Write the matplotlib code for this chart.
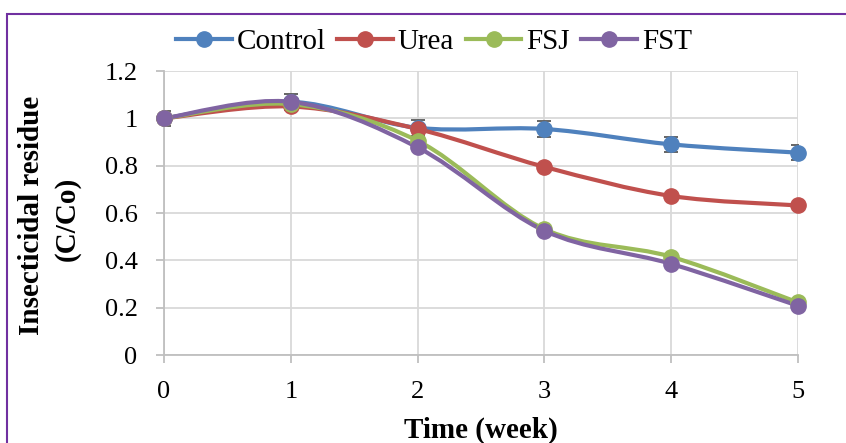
import matplotlib
matplotlib.use("Agg")
import matplotlib.pyplot as plt
from matplotlib.path import Path
from matplotlib.patches import PathPatch, Rectangle
from matplotlib.lines import Line2D
import numpy as np

weeks = [0, 1, 2, 3, 4, 5]
control = [1.00, 1.07, 0.96, 0.955, 0.89, 0.855]
urea = [1.00, 1.05, 0.955, 0.795, 0.672, 0.632]
fsj = [1.00, 1.06, 0.905, 0.532, 0.415, 0.222]
fst = [1.00, 1.07, 0.877, 0.525, 0.385, 0.208]
control_err = [0.033, 0.033, 0.033, 0.033, 0.033, 0.033]
other_err = [0.01, 0.01, 0.01, 0.01, 0.01, 0.01]

series = [
    ("Control", control, control_err, "#4F81BD"),
    ("Urea", urea, other_err, "#C0504D"),
    ("FSJ", fsj, other_err, "#9BBB59"),
    ("FST", fst, other_err, "#8064A2"),
]

plt.rcParams['font.family'] = ['Liberation Serif', 'DejaVu Serif']

fig = plt.figure(figsize=(8.46, 4.43), dpi=100)
W, H = 846, 443
ax = fig.add_axes([164 / W, 1 - 355 / H, (798 - 164) / W, (355 - 71) / H])

def smooth_path(xs, ys):
    pts = np.column_stack([xs, ys]).astype(float)
    n = len(pts)
    verts = [pts[0]]
    codes = [Path.MOVETO]
    for i in range(n - 1):
        p0 = pts[i - 1] if i > 0 else pts[i]
        p1 = pts[i]
        p2 = pts[i + 1]
        p3 = pts[i + 2] if i + 2 < n else pts[i + 1]
        c1 = p1 + (p2 - p0) / 6.0
        c2 = p2 - (p3 - p1) / 6.0
        verts += [c1, c2, p2]
        codes += [Path.CURVE4] * 3
    return Path(verts, codes)

for name, vals, err, col in series:
    ax.errorbar(weeks, vals, yerr=err, fmt='none', ecolor='#595959',
                elinewidth=1.3, capsize=5, capthick=1.3, zorder=3)
for name, vals, err, col in series:
    patch = PathPatch(smooth_path(weeks, vals), facecolor='none', edgecolor=col,
                      lw=3.0, zorder=4, capstyle='round', joinstyle='round')
    ax.add_patch(patch)
    ax.plot(weeks, vals, 'o', color=col, markersize=11, zorder=5, clip_on=False)

ax.set_xlim(0, 5)
ax.set_ylim(0, 1.2)
ax.set_xticks(weeks)
ax.set_yticks([0, 0.2, 0.4, 0.6, 0.8, 1.0, 1.2])
ax.set_yticklabels(["0", "0.2", "0.4", "0.6", "0.8", "1", "1.2"])
ax.grid(True, color='#d9d9d9', lw=1.3)
ax.set_axisbelow(True)
for s in ['top', 'right']:
    ax.spines[s].set_visible(False)
for s in ['left', 'bottom']:
    ax.spines[s].set_color('#bfbfbf')
    ax.spines[s].set_linewidth(1.3)
ax.tick_params(axis='both', colors='#bfbfbf', length=6, width=1.3,
               labelcolor='black', labelsize=19)
ax.tick_params(axis='x', pad=13)
ax.tick_params(axis='y', pad=13)

ax.set_xlabel("Time (week)", fontsize=21, fontweight='bold', labelpad=9.5)
fig.text(32 / W, 1 - 215 / H, "Insecticidal residue", rotation=90, fontsize=21,
         fontweight='bold', ha='center', va='center')
fig.text(67 / W, 1 - 219 / H, "(C/Co)", rotation=90, fontsize=21,
         fontweight='bold', ha='center', va='center')

handles = [Line2D([], [], color=c, lw=3.0, marker='o', markersize=11) for _, _, _, c in series]
fig.legend(handles, [s[0] for s in series], loc='center', bbox_to_anchor=(434 / W, 1 - 42 / H),
           ncol=4, frameon=False, fontsize=21, handlelength=1.9, handletextpad=0.17,
           columnspacing=0.4, borderpad=0)

fig.add_artist(Rectangle((7 / W, -0.1), 1.0, 1 - 14 / H + 0.1, transform=fig.transFigure,
                         fill=False, edgecolor='#7030A0', lw=1.5))

fig.savefig("out.png", dpi=100)
